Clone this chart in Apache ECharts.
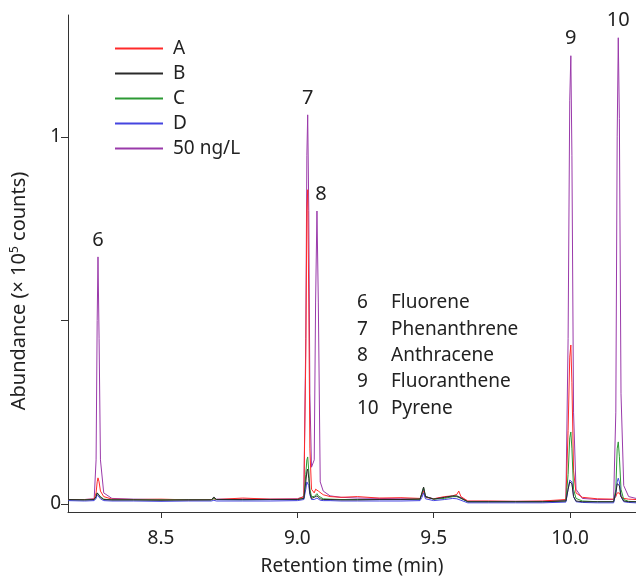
<!DOCTYPE html>
<html>
<head>
<meta charset="utf-8">
<script src="https://cdn.jsdelivr.net/npm/echarts@6/dist/echarts.min.js"></script>
<style>
  html, body { margin: 0; padding: 0; background: #fff; }
  #chart { width: 636px; height: 583px; }
</style>
</head>
<body>
<div id="chart"></div>
<script>
// Retention times (min) shared by every trace
const times = [
  8.16, 8.22, 8.255, 8.262, 8.266, 8.269, 8.273, 8.278, 8.29, 8.32,
  8.40, 8.50, 8.60, 8.685, 8.694, 8.703, 8.80, 8.90, 9.00, 9.024,
  9.031, 9.035, 9.038, 9.042, 9.046, 9.052, 9.062, 9.067, 9.072, 9.077,
  9.084, 9.095, 9.12, 9.16, 9.22, 9.30, 9.38, 9.45, 9.457, 9.463,
  9.47, 9.50, 9.54, 9.57, 9.585, 9.592, 9.60, 9.625, 9.70, 9.80,
  9.90, 9.985, 9.993, 9.999, 10.003, 10.007, 10.013, 10.022, 10.045, 10.10,
  10.16, 10.168, 10.173, 10.177, 10.181, 10.187, 10.197, 10.215, 10.242
];

// Abundance (x 10^5 counts) per sample
const sampleA = [
  0.012, 0.012, 0.013, 0.030, 0.060, 0.071, 0.060, 0.035, 0.020, 0.013,
  0.012, 0.013, 0.011, 0.012, 0.014, 0.012, 0.016, 0.013, 0.013, 0.020,
  0.400, 0.800, 0.856, 0.550, 0.150, 0.040, 0.030, 0.040, 0.044, 0.035,
  0.030, 0.025, 0.020, 0.018, 0.020, 0.016, 0.017, 0.015, 0.020, 0.035,
  0.018, 0.014, 0.020, 0.022, 0.026, 0.035, 0.020, 0.008, 0.008, 0.007,
  0.008, 0.012, 0.200, 0.400, 0.433, 0.330, 0.090, 0.030, 0.018, 0.014,
  0.013, 0.020, 0.030, 0.035, 0.030, 0.020, 0.015, 0.013, 0.012
];
const sampleB = [
  0.012, 0.011, 0.012, 0.020, 0.030, 0.034, 0.028, 0.018, 0.012, 0.011,
  0.011, 0.010, 0.011, 0.011, 0.019, 0.012, 0.012, 0.012, 0.012, 0.015,
  0.060, 0.088, 0.095, 0.070, 0.030, 0.015, 0.018, 0.020, 0.022, 0.017,
  0.014, 0.012, 0.012, 0.011, 0.011, 0.012, 0.012, 0.013, 0.030, 0.046,
  0.020, 0.013, 0.018, 0.022, 0.022, 0.020, 0.016, 0.006, 0.006, 0.006,
  0.006, 0.008, 0.040, 0.060, 0.065, 0.055, 0.020, 0.008, 0.006, 0.006,
  0.006, 0.030, 0.055, 0.060, 0.050, 0.020, 0.008, 0.006, 0.006
];
const sampleC = [
  0.011, 0.011, 0.012, 0.020, 0.030, 0.035, 0.030, 0.020, 0.013, 0.011,
  0.011, 0.011, 0.011, 0.011, 0.015, 0.012, 0.011, 0.012, 0.012, 0.015,
  0.080, 0.120, 0.128, 0.090, 0.040, 0.020, 0.020, 0.025, 0.028, 0.022,
  0.018, 0.014, 0.013, 0.012, 0.012, 0.012, 0.012, 0.013, 0.030, 0.045,
  0.020, 0.013, 0.015, 0.020, 0.020, 0.018, 0.015, 0.006, 0.006, 0.006,
  0.006, 0.008, 0.080, 0.180, 0.196, 0.150, 0.040, 0.015, 0.008, 0.006,
  0.006, 0.040, 0.150, 0.169, 0.130, 0.040, 0.012, 0.007, 0.006
];
const sampleD = [
  0.009, 0.008, 0.009, 0.015, 0.025, 0.030, 0.025, 0.014, 0.009, 0.008,
  0.008, 0.007, 0.008, 0.008, 0.010, 0.008, 0.008, 0.008, 0.009, 0.012,
  0.040, 0.060, 0.065, 0.050, 0.025, 0.012, 0.012, 0.015, 0.016, 0.012,
  0.010, 0.009, 0.009, 0.008, 0.008, 0.008, 0.008, 0.009, 0.018, 0.030,
  0.014, 0.009, 0.012, 0.015, 0.014, 0.013, 0.010, 0.003, 0.003, 0.003,
  0.003, 0.005, 0.040, 0.065, 0.070, 0.060, 0.020, 0.006, 0.004, 0.003,
  0.003, 0.030, 0.060, 0.070, 0.060, 0.020, 0.006, 0.004, 0.003
];
const standard50 = [
  0.012, 0.012, 0.014, 0.120, 0.500, 0.673, 0.450, 0.120, 0.030, 0.015,
  0.013, 0.012, 0.012, 0.012, 0.016, 0.013, 0.013, 0.013, 0.014, 0.020,
  0.450, 0.950, 1.060, 0.800, 0.300, 0.100, 0.120, 0.550, 0.798, 0.550,
  0.060, 0.035, 0.022, 0.018, 0.016, 0.015, 0.014, 0.014, 0.025, 0.040,
  0.020, 0.014, 0.018, 0.020, 0.020, 0.022, 0.018, 0.007, 0.007, 0.007,
  0.007, 0.010, 0.450, 1.100, 1.221, 0.950, 0.250, 0.040, 0.015, 0.012,
  0.012, 0.250, 1.000, 1.270, 1.050, 0.300, 0.050, 0.020, 0.015
];

// Peak numbering and compound names
const peakNumbers = ['6', '7', '8', '9', '10'];
const peakTimes = [8.269, 9.038, 9.072, 10.003, 10.177];
const compoundNames = ['Fluorene', 'Phenanthrene', 'Anthracene', 'Fluoranthene', 'Pyrene'];

// Axis ticks
const xTicks = [8.5, 9.0, 9.5, 10.0];
const yTicks = [0, 0.5, 1];
const yLabels = [0, 1];

const FONT = 'Noto Sans';
const FS = 19;
const TEXT = '#222';

const toPairs = vals => times.map((t, i) => [t, vals[i]]);

function lineSeries(name, vals, color, extra) {
  return Object.assign({
    name: name,
    type: 'line',
    data: toPairs(vals),
    symbol: 'none',
    smooth: false,
    lineStyle: { color: color, width: 1 },
    itemStyle: { color: color },
    emphasis: { disabled: true }
  }, extra || {});
}

const peakMarks = peakNumbers.map((n, i) => {
  const idx = times.indexOf(peakTimes[i]);
  return {
    name: n,
    coord: [peakTimes[i], standard50[idx]],
    label: { offset: n === '8' ? [4, 0] : [0, 0] }
  };
});

const listTop = 303;
const listStep = 26.3;
const listGraphics = [];
compoundNames.forEach((c, i) => {
  const y = listTop + i * listStep;
  listGraphics.push({
    type: 'text', x: 357, y: y,
    style: { text: peakNumbers[i], font: FS + 'px "' + FONT + '"', fill: TEXT, verticalAlign: 'middle' }
  });
  listGraphics.push({
    type: 'text', x: 391, y: y,
    style: { text: c, font: FS + 'px "' + FONT + '"', fill: TEXT, verticalAlign: 'middle' }
  });
});

const chart = echarts.init(document.getElementById('chart'), null, { renderer: 'canvas' });
chart.setOption({
  animation: false,
  backgroundColor: '#fff',
  textStyle: { fontFamily: FONT },
  grid: { left: 68, right: 0, top: 15, bottom: 71, containLabel: false },
  legend: {
    data: ['A', 'B', 'C', 'D', '50 ng/L'],
    orient: 'vertical',
    left: 115,
    top: 39,
    padding: 0,
    icon: 'rect',
    itemWidth: 48,
    itemHeight: 2,
    itemGap: 6,
    textStyle: { fontSize: FS, color: TEXT, fontFamily: FONT, lineHeight: 19, padding: [0, 0, 0, 5] }
  },
  xAxis: {
    type: 'value',
    min: 8.159,
    max: 10.242,
    name: 'Retention time (min)',
    nameLocation: 'middle',
    nameGap: 45,
    nameTextStyle: { fontSize: FS, color: TEXT, fontFamily: FONT },
    axisLine: { show: true, onZero: false, lineStyle: { color: '#333', width: 1 } },
    axisTick: { show: true, length: 6, customValues: xTicks, lineStyle: { color: '#333' } },
    axisLabel: { customValues: xTicks, fontSize: FS, color: TEXT, margin: 17, formatter: v => v.toFixed(1) },
    splitLine: { show: false }
  },
  yAxis: {
    type: 'value',
    min: -0.022,
    max: 1.332,
    axisLine: { show: true, lineStyle: { color: '#333', width: 1 } },
    axisTick: { show: true, length: 7, customValues: yTicks, lineStyle: { color: '#333' } },
    axisLabel: { customValues: yLabels, fontSize: FS, color: TEXT, margin: 7, formatter: v => String(v) },
    splitLine: { show: false }
  },
  graphic: [
    {
      type: 'text',
      x: 19, y: 291,
      rotation: Math.PI / 2,
      style: {
        text: '{a|Abundance (× 10}{s|5}{a| counts)}',
        align: 'center',
        verticalAlign: 'middle',
        fill: TEXT,
        rich: {
          a: { fontSize: 20, fontFamily: FONT, fill: TEXT },
          s: { fontSize: 12, fontFamily: FONT, fill: TEXT, padding: [0, 0, 9, 0] }
        }
      }
    }
  ].concat(listGraphics),
  series: [
    lineSeries('50 ng/L', standard50, '#9a3aaa', {
      markPoint: {
        symbol: 'circle',
        symbolSize: 0,
        silent: true,
        label: {
          show: true, position: 'top', distance: 7,
          formatter: p => p.name, fontSize: 20, color: TEXT, fontFamily: FONT
        },
        data: peakMarks
      }
    }),
    lineSeries('A', sampleA, '#ff2a2a'),
    lineSeries('C', sampleC, '#2c9a34'),
    lineSeries('D', sampleD, '#4545e0'),
    lineSeries('B', sampleB, '#2a2a2a')
  ]
});
</script>
</body>
</html>
